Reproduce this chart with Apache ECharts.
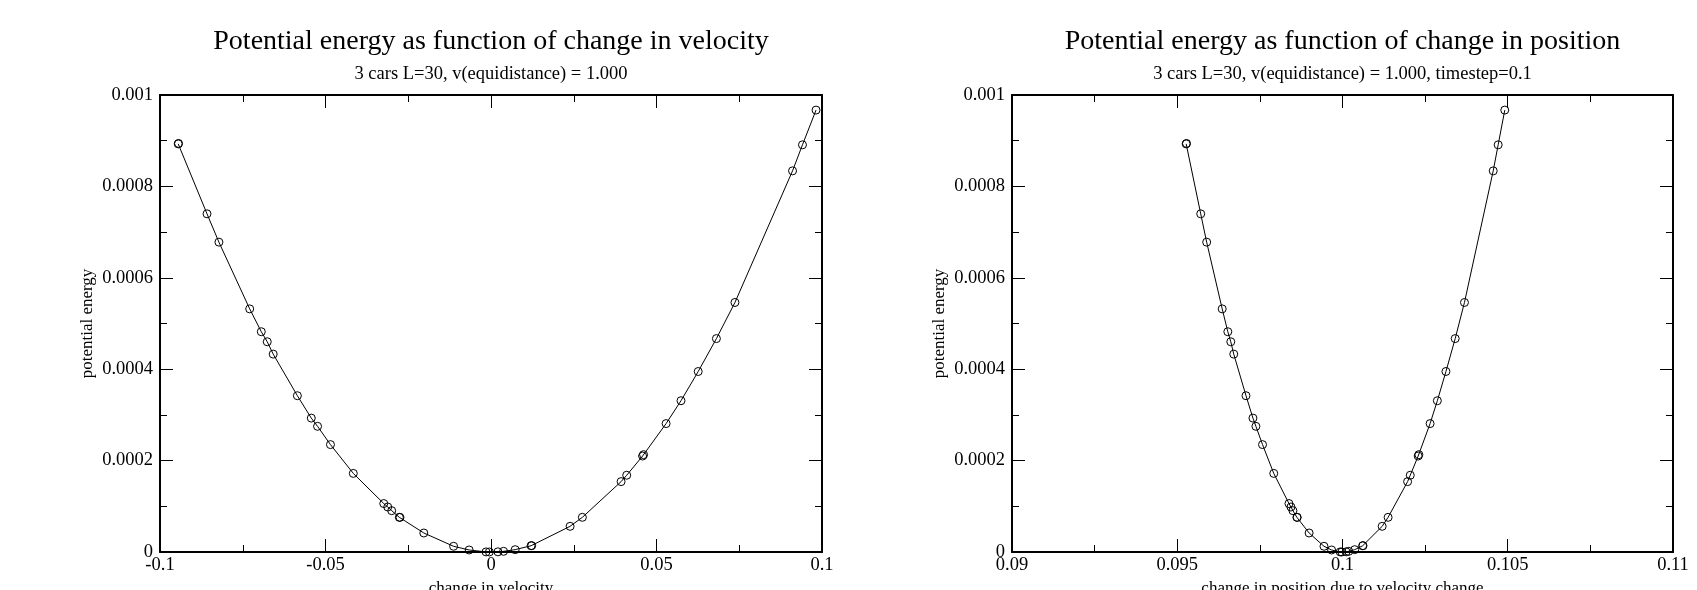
<!DOCTYPE html>
<html>
<head>
<meta charset="utf-8">
<script src="https://cdn.jsdelivr.net/npm/echarts@6/dist/echarts.min.js"></script>
<style>
html,body{margin:0;padding:0;background:#fff;}
#chart{width:1697px;height:590px;}
</style>
</head>
<body>
<div id="chart"></div>
<script>
// ---- data ----
const velocityChange = [-0.0945,-0.0944,-0.0858,-0.0822,-0.0729,-0.0694,-0.0676,-0.0658,-0.0585,-0.0543,-0.0524,-0.0485,-0.0416,-0.0324,-0.0312,-0.0300,-0.0277,-0.0275,-0.0203,-0.0113,-0.0066,-0.0015,-0.0005,0.0021,0.0038,0.0073,0.0121,0.0123,0.0239,0.0276,0.0393,0.0410,0.0458,0.0461,0.0529,0.0574,0.0626,0.0681,0.0737,0.0911,0.0941,0.0982];
const positionChange = [0.09527,0.09528,0.09571,0.09589,0.09636,0.09653,0.09662,0.09671,0.09708,0.09729,0.09738,0.09758,0.09792,0.09838,0.09844,0.09850,0.09862,0.09863,0.09899,0.09944,0.09967,0.09993,0.09998,0.10011,0.10019,0.10037,0.10061,0.10062,0.10120,0.10138,0.10197,0.10205,0.10229,0.10231,0.10265,0.10287,0.10313,0.10341,0.10369,0.10456,0.10471,0.10491];
const potentialEnergy = [0.000893,0.000894,0.000740,0.000678,0.000532,0.000482,0.000460,0.000433,0.000342,0.000293,0.000275,0.000235,0.000172,0.000106,0.0000985,0.0000904,0.0000759,0.0000757,0.0000416,0.0000125,0.0000044,0.0000002,0.00000003,0.0000004,0.0000015,0.0000051,0.0000137,0.0000139,0.0000562,0.0000759,0.000154,0.000168,0.000210,0.000213,0.000281,0.000331,0.000395,0.000467,0.000546,0.000834,0.000891,0.000967];

const velTicks = [-0.1,-0.05,0,0.05,0.1];
const posTicks = [0.09,0.095,0.1,0.105,0.11];
const energyTicks = [0,0.0002,0.0004,0.0006,0.0008,0.001];

const titles = ['Potential energy as function of change in velocity','Potential energy as function of change in position'];
const subtitles = ['3 cars L=30, v(equidistance) = 1.000','3 cars L=30, v(equidistance) = 1.000, timestep=0.1'];
const xNames = ['change in velocity','change in position due to velocity change'];
const yName = 'potential energy';

// ---- build chart ----
const FONT = "'Liberation Serif','Times New Roman',serif";
const chart = echarts.init(document.getElementById('chart'), null, {renderer:'canvas'});

const grids = [
  {left:160, right:875, top:95, bottom:38, containLabel:false, outerBoundsMode:'none'},
  {left:1012, right:24, top:95, bottom:38, containLabel:false, outerBoundsMode:'none'}
];
const centers = [491, 1342.5];

function fmt(v){ return String(+v.toPrecision(6)); }

const xAxes = [], yAxes = [];
const xTickSets = [velTicks, posTicks];
const xIntervals = [0.05, 0.005];
const tick = {show:true, inside:true, length:13, lineStyle:{color:'#000', width:1}};
const minor = {show:true, splitNumber:2, length:7, lineStyle:{color:'#000', width:1}};
for (let g = 0; g < 2; g++) {
  const t = xTickSets[g];
  const base = {
    type:'value', gridIndex:g, min:t[0], max:t[t.length-1], interval:xIntervals[g],
    axisLine:{show:true, onZero:false, lineStyle:{color:'#000', width:2}},
    axisTick:tick, minorTick:minor, splitLine:{show:false}
  };
  xAxes.push(Object.assign({}, base, {
    position:'bottom',
    name:xNames[g], nameLocation:'middle', nameGap:28,
    nameTextStyle:{fontFamily:FONT, fontSize:17, color:'#000'},
    axisLabel:{show:true, margin:4, fontFamily:FONT, fontSize:18.5, color:'#000', formatter:fmt}
  }));
  xAxes.push(Object.assign({}, base, {position:'top', axisLabel:{show:false}}));
  const ybase = {
    type:'value', gridIndex:g, min:energyTicks[0], max:energyTicks[energyTicks.length-1], interval:0.0002,
    axisLine:{show:true, onZero:false, lineStyle:{color:'#000', width:2}},
    axisTick:tick, minorTick:minor, splitLine:{show:false}
  };
  yAxes.push(Object.assign({}, ybase, {
    position:'left',
    name:yName, nameLocation:'middle', nameGap:64,
    nameTextStyle:{fontFamily:FONT, fontSize:17, color:'#000'},
    axisLabel:{show:true, margin:7, fontFamily:FONT, fontSize:18.5, color:'#000', formatter:fmt}
  }));
  yAxes.push(Object.assign({}, ybase, {position:'right', axisLabel:{show:false}}));
}

const xData = [velocityChange, positionChange];
const series = [0,1].map(g => ({
  type:'line', xAxisIndex:g*2, yAxisIndex:g*2,
  data: xData[g].map((x,i) => [x, potentialEnergy[i]]),
  symbol:'circle', symbolSize:8, showSymbol:true,
  itemStyle:{color:'rgba(0,0,0,0)', borderColor:'#000', borderWidth:1},
  lineStyle:{color:'#000', width:1},
  animation:false, clip:false
}));

const titleOpts = [0,1].map(g => ({
  text:titles[g], subtext:subtitles[g],
  left:centers[g], top:28, textAlign:'center', padding:0, itemGap:9,
  textStyle:{fontFamily:FONT, fontSize:28, fontWeight:'normal', color:'#000'},
  subtextStyle:{fontFamily:FONT, fontSize:18.5, color:'#000'}
}));

chart.setOption({
  animation:false,
  backgroundColor:'#fff',
  title:titleOpts,
  grid:grids,
  xAxis:xAxes,
  yAxis:yAxes,
  series:series
});
</script>
</body>
</html>
